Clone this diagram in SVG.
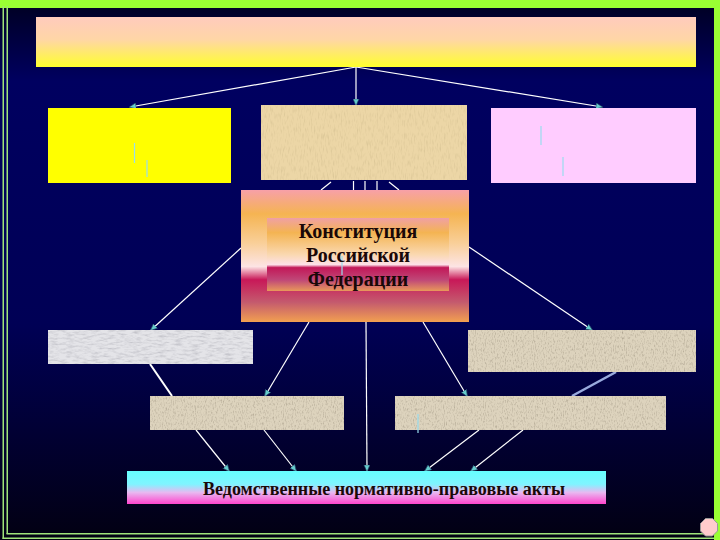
<svg xmlns="http://www.w3.org/2000/svg" width="720" height="540" viewBox="0 0 720 540">
  <style>
    .lbl { font-family: "Liberation Serif", "Times New Roman", serif; font-weight: bold; fill: #1a0808; text-anchor: middle; }
    .con { stroke: #ffffff; stroke-width: 1.2; fill: none; }
    .conArrow { stroke: #ffffff; stroke-width: 1.2; fill: none; marker-end: url(#arr); }
    .tick { stroke: #99ddee; stroke-width: 1.2; }
  </style>
  <defs>
    <linearGradient id="bg" x1="0" y1="0" x2="0" y2="1">
      <stop offset="0" stop-color="#000020"/>
      <stop offset="0.15" stop-color="#000060"/>
      <stop offset="0.6" stop-color="#000055"/>
      <stop offset="1" stop-color="#020012"/>
    </linearGradient>
    <linearGradient id="gTop" x1="0" y1="0" x2="0" y2="1">
      <stop offset="0" stop-color="#ffcbbd"/>
      <stop offset="0.45" stop-color="#ffd6a6"/>
      <stop offset="1" stop-color="#ffff2e"/>
    </linearGradient>
    <linearGradient id="gConst" x1="0" y1="0" x2="0" y2="1">
      <stop offset="0" stop-color="#f7a0a8"/>
      <stop offset="0.18" stop-color="#f5b452"/>
      <stop offset="0.4" stop-color="#f9cf98"/>
      <stop offset="0.58" stop-color="#fde4e4"/>
      <stop offset="0.68" stop-color="#c81858"/>
      <stop offset="0.85" stop-color="#c45a6e"/>
      <stop offset="1" stop-color="#f2a050"/>
    </linearGradient>
    <linearGradient id="gInner" x1="0" y1="0" x2="0" y2="1">
      <stop offset="0" stop-color="#f0a0a4"/>
      <stop offset="0.2" stop-color="#f4b452"/>
      <stop offset="0.5" stop-color="#fad8b0"/>
      <stop offset="0.64" stop-color="#fde0e8"/>
      <stop offset="0.68" stop-color="#c21858"/>
      <stop offset="0.85" stop-color="#c04878"/>
      <stop offset="1" stop-color="#e8985a"/>
    </linearGradient>
    <linearGradient id="gBottom" x1="0" y1="0" x2="0" y2="1">
      <stop offset="0" stop-color="#66ffff"/>
      <stop offset="0.4" stop-color="#80f4ff"/>
      <stop offset="0.65" stop-color="#e8b8f0"/>
      <stop offset="1" stop-color="#ff44cc"/>
    </linearGradient>
    <filter id="grain" x="0" y="0" width="100%" height="100%">
      <feTurbulence type="fractalNoise" baseFrequency="0.9 0.35" numOctaves="2" seed="4" result="n"/>
      <feColorMatrix in="n" type="matrix" values="0 0 0 0 0.35  0 0 0 0 0.3  0 0 0 0 0.22  1.6 0 0 0 -0.75" result="specks"/>
      <feComposite in="specks" in2="SourceGraphic" operator="atop"/>
    </filter>
    <filter id="fiber" x="0" y="0" width="100%" height="100%">
      <feTurbulence type="fractalNoise" baseFrequency="0.7 0.15" numOctaves="2" seed="7" result="n"/>
      <feColorMatrix in="n" type="matrix" values="0 0 0 0 0.6  0 0 0 0 0.48  0 0 0 0 0.25  1.3 0 0 0 -0.62" result="specks"/>
      <feComposite in="specks" in2="SourceGraphic" operator="atop"/>
    </filter>
    <filter id="marble" x="0" y="0" width="100%" height="100%">
      <feTurbulence type="fractalNoise" baseFrequency="0.12 0.5" numOctaves="3" seed="2" result="n"/>
      <feColorMatrix in="n" type="matrix" values="0 0 0 0 0.45  0 0 0 0 0.45  0 0 0 0 0.5  1.5 0 0 0 -0.62" result="specks"/>
      <feComposite in="specks" in2="SourceGraphic" operator="atop"/>
    </filter>
    <marker id="arr" viewBox="0 0 8 8" refX="7" refY="4" markerWidth="7" markerHeight="7" markerUnits="userSpaceOnUse" orient="auto">
      <path d="M0,0.5 L8,4 L0,7.5 Z" fill="#66cccc" stroke="#224466" stroke-width="0.8"/>
    </marker>
  </defs>

  <!-- background and frame -->
  <rect x="0" y="0" width="720" height="540" fill="url(#bg)"/>
  <rect x="0" y="0" width="720" height="8" fill="#99ff33"/>
  <rect x="714" y="0" width="6" height="540" fill="#99ff33"/>
  <rect x="2.5" y="6" width="1.5" height="533" fill="#9fe37a"/>
  <rect x="6.5" y="6" width="1.5" height="528" fill="#9fe37a"/>
  <rect x="6.5" y="533" width="708" height="1.5" fill="#9fe37a"/>
  <rect x="2.5" y="537.5" width="712" height="1.5" fill="#9fe37a"/>

  <!-- connectors -->
  <g id="connectors">
    <line class="conArrow" x1="356" y1="67" x2="130" y2="107"/>
    <line class="conArrow" x1="356" y1="67" x2="356" y2="105"/>
    <line class="conArrow" x1="356" y1="67" x2="602" y2="107"/>
    <line class="con" x1="331" y1="182" x2="321" y2="190"/>
    <line class="con" x1="353.5" y1="181" x2="353.5" y2="190"/>
    <line class="con" x1="365" y1="181" x2="365" y2="190"/>
    <line class="con" x1="377" y1="181" x2="377" y2="190"/>
    <line class="con" x1="389" y1="182" x2="399" y2="190"/>
    <line class="conArrow" x1="241" y1="248" x2="151" y2="330"/>
    <line class="conArrow" x1="469" y1="247" x2="592" y2="330"/>
    <line class="conArrow" x1="309" y1="322" x2="265" y2="396"/>
    <line class="conArrow" x1="366" y1="322" x2="367" y2="471"/>
    <line class="conArrow" x1="423" y1="322" x2="467" y2="396"/>
    <line x1="150" y1="364" x2="172" y2="396" stroke="#ffffff" stroke-width="2"/>
    <line x1="616" y1="372" x2="572" y2="396" stroke="#99aadd" stroke-width="2.5"/>
    <line class="conArrow" x1="196" y1="430" x2="229" y2="471"/>
    <line class="conArrow" x1="264" y1="430" x2="296" y2="471"/>
    <line class="conArrow" x1="479" y1="430" x2="425" y2="471"/>
    <line class="conArrow" x1="523" y1="430" x2="471" y2="471"/>
  </g>

  <g id="node-top">
    <rect x="36" y="17" width="660" height="50" fill="url(#gTop)"/>
  </g>

  <g id="node-yellow">
    <rect x="48" y="108" width="183" height="75" fill="#ffff00"/>
    <line class="tick" x1="134.5" y1="143" x2="134.5" y2="163"/>
    <line class="tick" x1="147" y1="160" x2="147" y2="177"/>
  </g>

  <g id="node-papyrus">
    <rect x="261" y="105" width="206" height="75" fill="#ecd6a6" filter="url(#fiber)"/>
  </g>

  <g id="node-pink">
    <rect x="491" y="108" width="205" height="75" fill="#ffccff"/>
    <line class="tick" x1="541" y1="126" x2="541" y2="145"/>
    <line class="tick" x1="563" y1="157" x2="563" y2="176"/>
  </g>

  <g id="node-constitution">
    <rect x="241" y="190" width="228" height="132" fill="url(#gConst)"/>
    <rect x="267" y="218" width="182" height="73" fill="url(#gInner)"/>
    <line class="tick" x1="342" y1="256" x2="342" y2="275"/>
    <text class="lbl" x="358" y="238" font-size="20">Конституция</text>
    <text class="lbl" x="358" y="262" font-size="20">Российской</text>
    <text class="lbl" x="358" y="286" font-size="20">Федерации</text>
  </g>

  <g id="node-marble">
    <rect x="48" y="330" width="205" height="34" fill="#e4e4e8" filter="url(#marble)"/>
  </g>

  <g id="node-right">
    <rect x="468" y="330" width="228" height="42" fill="#ddd3bd" filter="url(#grain)"/>
  </g>

  <g id="node-midleft">
    <rect x="150" y="396" width="194" height="34" fill="#ddd3bd" filter="url(#grain)"/>
  </g>

  <g id="node-midright">
    <rect x="395" y="396" width="271" height="34" fill="#ddd3bd" filter="url(#grain)"/>
    <line class="tick" x1="418" y1="414" x2="418" y2="433" stroke="#88dddd"/>
  </g>

  <g id="node-bottom">
    <rect x="127" y="471" width="479" height="33" fill="url(#gBottom)"/>
    <text class="lbl" x="384" y="495" font-size="18" textLength="362" lengthAdjust="spacingAndGlyphs">Ведомственные нормативно-правовые акты</text>
  </g>

  <g id="octagon">
    <polygon points="705.5,518.5 712.5,518.5 717.5,523.5 717.5,531 712.5,536 705.5,536 700.5,531 700.5,523.5" fill="#ffcccc" stroke="#999999" stroke-width="1"/>
  </g>
</svg>
